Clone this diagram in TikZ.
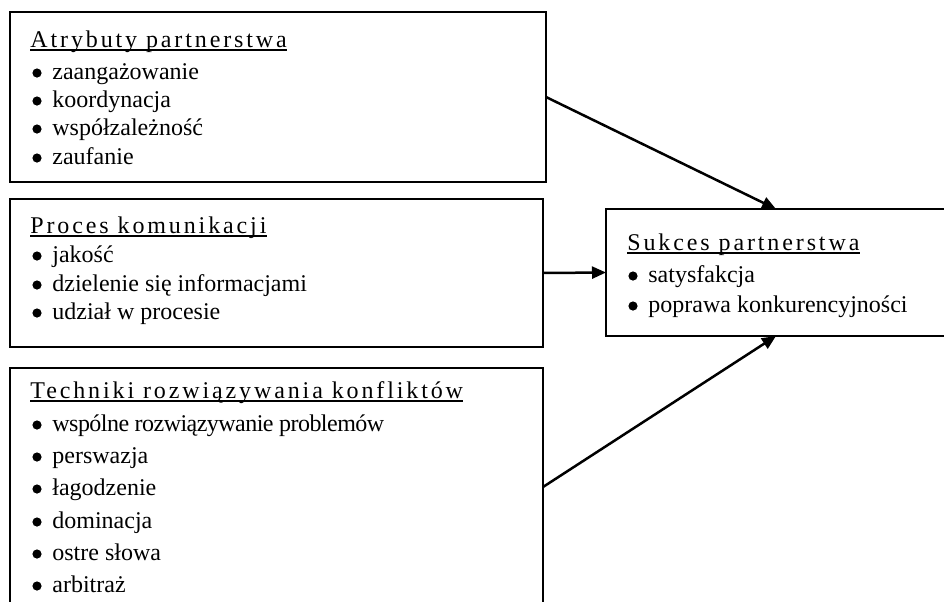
\documentclass[tikz,border=0pt]{standalone}
\usepackage{fontspec}
\setmainfont{Liberation Serif}
\usetikzlibrary{arrows.meta}
\newcommand{\bulletdot}{\tikz[baseline=0pt]\fill (2.3pt,3pt) circle (2.3pt);}
\newcommand{\itm}[1]{\makebox[10pt][l]{\bulletdot}#1}
\begin{document}
\begin{tikzpicture}[x=0.5pt,y=-0.5pt,
  box/.style={draw, line width=1.4pt, rectangle, inner sep=0pt, outer sep=0pt, anchor=north west},
  txt/.style={anchor=base west, inner sep=0pt, font=\fontsize{12}{14.5}\selectfont},
  head/.style={anchor=base west, inner sep=0pt, font=\fontsize{12}{14.5}\selectfont\addfontfeature{LetterSpace=12}},
  uline/.style={line width=0.75pt},
  conn/.style={line width=1.25pt, -{Triangle[length=7pt,width=6pt]}}]
\useasboundingbox (0,0) rectangle (944,601);
\clip (0,0) rectangle (944,601);
% boxes
\node[box, minimum width=268pt, minimum height=85pt] (box1) at (10,12) {};
\node[box, minimum width=266.5pt, minimum height=74pt] (box2) at (10,199) {};
\node[box, minimum width=266.5pt, minimum height=119pt] (box3) at (10,368) {};
\node[box, minimum width=170pt, minimum height=63.5pt] (box4) at (606,209) {};
% box 1
\node[head] (h1) at (30,47) {Atrybuty partnerstwa};
\draw[uline] ([yshift=-1.5pt]h1.base west) -- ([yshift=-1.5pt]h1.base east);
\node[txt] (a1) at (32,79) {\itm{zaangażowanie}};
\node[txt] (a2) at (32,107) {\itm{koordynacja}};
\node[txt] (a3) at (32,135) {\itm{współzależność}};
\node[txt] (a4) at (32,164) {\itm{zaufanie}};
% box 2
\node[head] (h2) at (30,233) {Proces komunikacji};
\draw[uline] ([yshift=-1.5pt]h2.base west) -- ([yshift=-1.5pt]h2.base east);
\node[txt] (b1) at (32,262) {\itm{jakość}};
\node[txt] (b2) at (32,291) {\itm{dzielenie się informacjami}};
\node[txt] (b3) at (32,319) {\itm{udział w procesie}};
% box 3
\node[head] (h3) at (30,398) {Techniki rozwiązywania konfliktów};
\draw[uline] ([yshift=-1.5pt]h3.base west) -- ([yshift=-1.5pt]h3.base east);
\node[txt] (c1) at (32,431) {\itm{\addfontfeature{LetterSpace=-2.2}wspólne rozwiązywanie problemów}};
\node[txt] (c2) at (32,463) {\itm{perswazja}};
\node[txt] (c3) at (32,495) {\itm{łagodzenie}};
\node[txt] (c4) at (32,528) {\itm{dominacja}};
\node[txt] (c5) at (32,560) {\itm{ostre słowa}};
\node[txt] (c6) at (32,592) {\itm{arbitraż}};
% box 4
\node[head] (h4) at (627,250) {Sukces partnerstwa};
\draw[uline] ([yshift=-1.5pt]h4.base west) -- ([yshift=-1.5pt]h4.base east);
\node[txt] (d1) at (628,282) {\itm{satysfakcja}};
\node[txt] (d2) at (628,312) {\itm{poprawa konkurencyjności}};
% connectors
\draw[conn] (box1.east) -- (box4.north);
\draw[conn] (box2.east) -- (box4.west);
\draw[conn] (box3.east) -- (box4.south);
\end{tikzpicture}
\end{document}
